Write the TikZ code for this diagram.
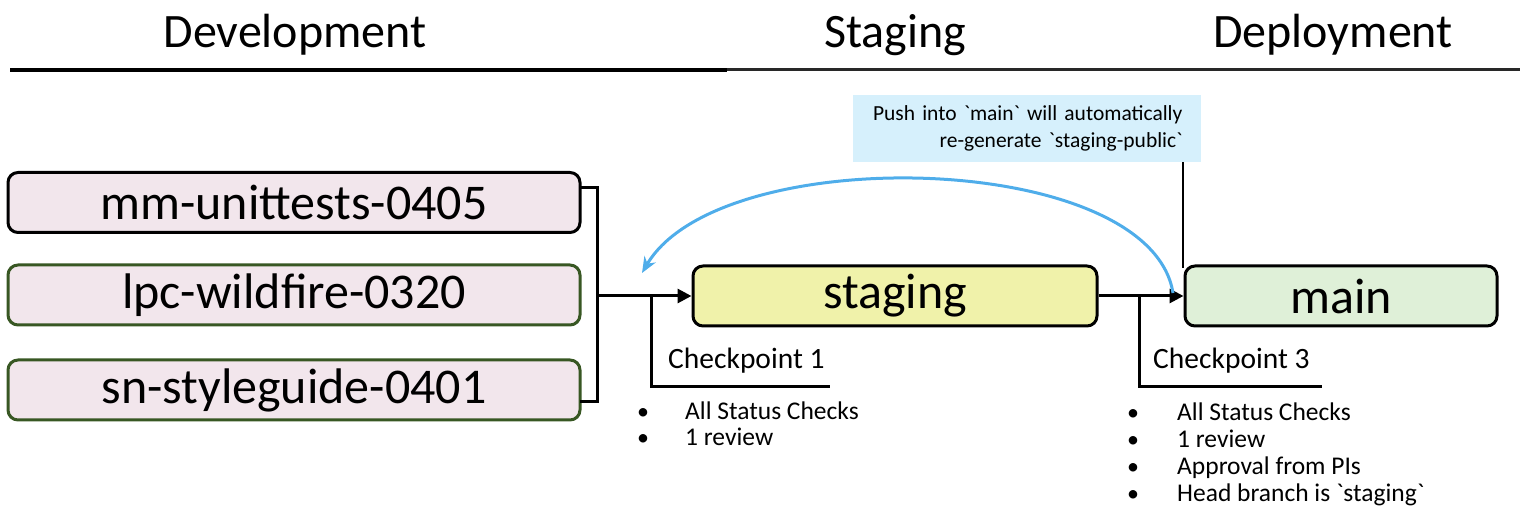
\documentclass[tikz,border=0pt]{standalone}
\usepackage{fontspec}
\setmainfont{Carlito}
\usetikzlibrary{arrows.meta}
\definecolor{pinkfill}{RGB}{242,230,236}
\definecolor{darkgreen}{RGB}{56,87,35}
\definecolor{stagefill}{RGB}{240,242,170}
\definecolor{mainfill}{RGB}{223,240,216}
\definecolor{calloutfill}{RGB}{214,240,252}
\definecolor{curveblue}{RGB}{79,173,234}
\definecolor{rulegray}{RGB}{40,40,40}
\tikzset{
  branch/.style={draw, line width=3pt, rounded corners=10pt, fill=pinkfill, minimum width=572pt, minimum height=60pt, inner sep=0pt, font=\fontsize{50}{52}\selectfont},
  bigbox/.style={draw=black, line width=3pt, rounded corners=10pt, minimum height=60pt, inner sep=0pt, font=\fontsize{50}{52}\selectfont},
  header/.style={font=\fontsize{48}{50}\selectfont, inner sep=0pt},
  conn/.style={line width=3pt},
  arr/.style={line width=3pt, -{Triangle[length=14pt,width=14pt]}},
  cptext/.style={font=\fontsize{29.5}{31}\selectfont, inner sep=0pt, anchor=base west},
  bullet/.style={inner sep=0pt, anchor=base, font=\fontsize{24}{26}\selectfont},
  itemtext/.style={inner sep=0pt, anchor=base west, font=\fontsize{25.5}{27}\selectfont},
}
\begin{document}
\begin{tikzpicture}[x=1pt,y=-1pt]
\useasboundingbox (0,0) rectangle (1532,518);

% headers
\node[header] (hdev) at (295,35) {Development};
\node[header] (hstg) at (895,35) {Staging};
\node[header] (hdep) at (1333,35) {Deployment};
\draw[line width=4pt] (10,70) -- (727,70);
\draw[line width=3pt, rulegray] (727,70) -- (1520,70);

% branches
\node[branch, draw=black] (mm) at (294,202.5) {mm-unittests-0405};
\node[branch, draw=darkgreen] (lpc) at (294,295) {lpc-wildfire-0320};
\node[branch, draw=darkgreen] (sn) at (294,390) {sn-styleguide-0401};

% staging and main
\node[bigbox, fill=stagefill, minimum width=404pt] (staging) at (895,296) {staging};
\node[bigbox, fill=mainfill, minimum width=312pt] (main) at (1341,296) {main};

% callout
\node[fill=calloutfill, minimum width=347pt, minimum height=67pt, text width=312pt, inner xsep=18pt, inner ysep=0pt, align=right, font=\fontsize{21.5}{27}\selectfont] (callout) at (1026.5,128.5)
  {Push into \textasciigrave main\textasciigrave\ will automatically\\re-generate \textasciigrave staging-public\textasciigrave};
\coordinate (cl) at (1183,268);
\draw[line width=2pt] (callout.south -| cl) -- (cl);

% bracket
\coordinate (bt) at (580,188);
\coordinate (bb) at (580,402);
\coordinate (jx) at (597,296);
\draw[conn] (bt) -| (jx) |- (bb);
\draw[arr] (jx) -- (staging.west);

% checkpoint 1
\coordinate (cp1a) at (651,296);
\coordinate (cp1b) at (830,387);
\draw[conn] (cp1a) |- (cp1b);
\node[cptext] (cp1) at (668,369) {Checkpoint 1};
\foreach \t [count=\i] in {All Status Checks, 1 review} {
  \node[bullet] (b1\i) at (643,{420+26*(\i-1)}) {•};
  \node[itemtext] (t1\i) at (685,{420+26*(\i-1)}) {\t};
}

% staging -> main
\draw[arr] (staging.east) -- (main.west);
\coordinate (cp3a) at (1139,296);
\coordinate (cp3b) at (1322,387);
\draw[conn] (cp3a) |- (cp3b);
\node[cptext] (cp3) at (1153,369) {Checkpoint 3};
\foreach \t [count=\i] in {All Status Checks, 1 review, Approval from PIs, Head branch is \textasciigrave staging\textasciigrave} {
  \node[bullet] (b3\i) at (1133,{421+26.7*(\i-1)}) {•};
  \node[itemtext] (t3\i) at (1177,{421+26.7*(\i-1)}) {\t};
}

% blue curve
\coordinate (cs) at (1173,293);
\coordinate (ce) at (642,273);
\draw[curveblue, line width=3pt, -{Stealth[length=16pt,width=13pt]}] (cs) .. controls (1150,150) and (720,140) .. (ce);
\end{tikzpicture}
\end{document}
